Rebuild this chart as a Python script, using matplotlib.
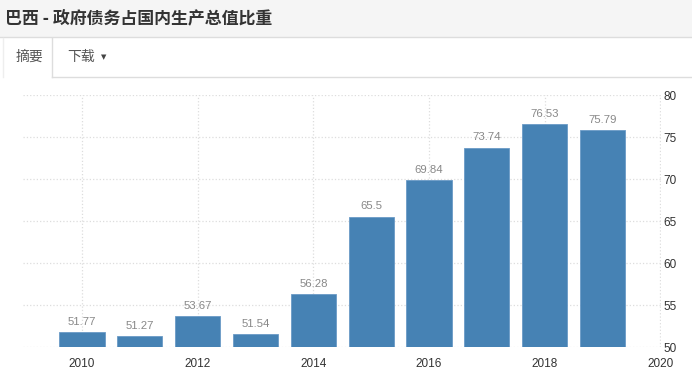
import matplotlib.pyplot as plt
from matplotlib.patches import Rectangle
from matplotlib.lines import Line2D

plt.rcParams['font.family'] = ['Noto Sans CJK SC', 'DejaVu Sans']

years = [2010, 2011, 2012, 2013, 2014, 2015, 2016, 2017, 2018, 2019]
debt_ratio = [51.77, 51.27, 53.67, 51.54, 56.28, 65.5, 69.84, 73.74, 76.53, 75.79]
value_labels = ['51.77', '51.27', '53.67', '51.54', '56.28', '65.5', '69.84', '73.74', '76.53', '75.79']
x_ticks = [2010, 2012, 2014, 2016, 2018, 2020]
y_ticks = [50, 55, 60, 65, 70, 75, 80]

W, H = 692, 380
fig = plt.figure(figsize=(W / 100, H / 100), dpi=100)

# header bar and tabs
fig.patches.append(Rectangle((0, 1 - 37 / H), 1, 37 / H, transform=fig.transFigure,
                             facecolor='#f5f5f5', edgecolor='none', zorder=0))
fig.lines.append(Line2D([0, 1], [1 - 37 / H] * 2, transform=fig.transFigure, color='#dddddd', lw=1))
fig.text(5 / W, 1 - 18 / H, '巴西 - 政府债务占国内生产总值比重', fontsize=12.2,
         fontweight='bold', color='#333333', va='center', ha='left')
fig.lines.append(Line2D([52 / W, 1], [1 - 77 / H] * 2, transform=fig.transFigure, color='#dddddd', lw=1))
fig.lines.append(Line2D([52 / W, 52 / W], [1 - 77 / H, 1 - 38 / H], transform=fig.transFigure,
                        color='#dddddd', lw=1))
fig.lines.append(Line2D([3 / W, 3 / W], [1 - 77 / H, 1 - 38 / H], transform=fig.transFigure,
                        color='#eeeeee', lw=1))
fig.text(29 / W, 1 - 57 / H, '摘要', fontsize=10, color='#555555', va='center', ha='center')
fig.text(67 / W, 1 - 57 / H, '下载', fontsize=10, color='#555555', va='center', ha='left')
fig.text(101 / W, 1 - 57 / H, '▼', fontsize=5, color='#444444', va='center', ha='left',
         family='DejaVu Sans')

ax = fig.add_axes([23 / W, 1 - 347 / H, (661 - 23) / W, (347 - 95) / H])
ax.bar(years, [v - 50 for v in debt_ratio], bottom=50, width=0.78,
       color='#4682b4', edgecolor='#6a9ac6', linewidth=0.6, zorder=3)
for yr, v, lab in zip(years, debt_ratio, value_labels):
    ax.annotate(lab, (yr, v), xytext=(0, 4), textcoords='offset points',
                ha='center', va='bottom', fontsize=8.2, color='#888888', family='Liberation Sans')

ax.set_xlim(2008.98, 2020.01)
ax.set_ylim(50, 80)
ax.set_xticks(x_ticks)
ax.set_xticklabels([str(t) for t in x_ticks], family='Liberation Sans')
ax.set_yticks(y_ticks)
ax.set_yticklabels([str(t) for t in y_ticks], family='Liberation Sans')
ax.yaxis.tick_right()
ax.tick_params(axis='both', length=0, labelsize=8.5, labelcolor='#333333')
ax.tick_params(axis='x', pad=8)
ax.tick_params(axis='y', pad=2)
ax.grid(True, color='#dddddd', linestyle=':', linewidth=0.9, zorder=0)
for s in ax.spines.values():
    s.set_visible(False)
ax.set_facecolor('white')

fig.savefig('out.png', dpi=100)
